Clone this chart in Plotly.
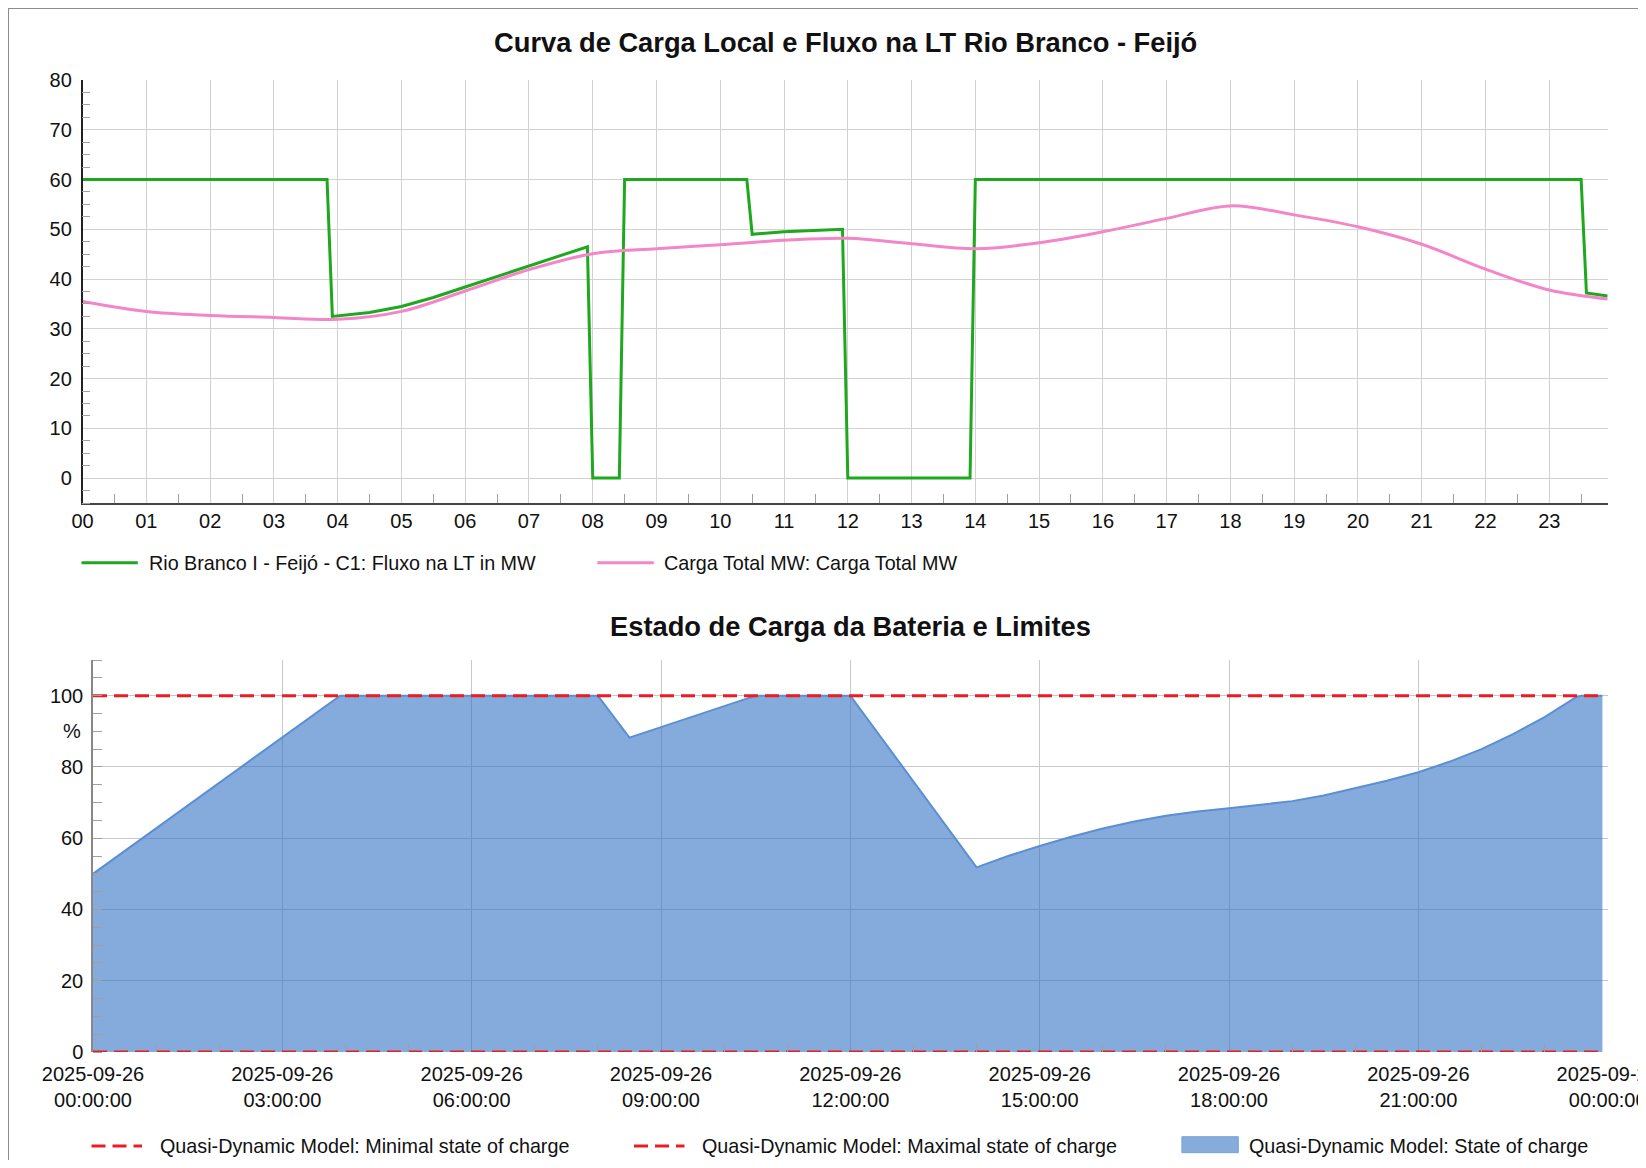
import plotly.graph_objects as go

# ---------------- data ----------------
day = "2025-09-26"
next_day = "2025-09-27"

# Top chart: flow on transmission line (MW)
flow_times = ["00:00", "03:50", "03:55", "04:00", "04:30", "05:00", "05:30", "06:00", "06:30",
              "07:00", "07:30", "07:55", "08:00", "08:25", "08:30", "10:25", "10:30", "11:00",
              "11:55", "12:00", "13:55", "14:00", "23:30", "23:35", "23:55"]
flow_mw = [60, 60, 32.5, 32.6, 33.3, 34.5, 36.3, 38.4, 40.5,
           42.6, 44.7, 46.5, 0, 0, 60, 60, 49.0, 49.5,
           50.0, 0, 0, 60, 60, 37.2, 36.6]

# Top chart: total load (MW)
load_times = ["00:00", "01:00", "02:00", "03:00", "04:00", "05:00", "06:00", "07:00", "08:00",
              "09:00", "10:00", "11:00", "12:00", "13:00", "14:00", "15:00", "16:00", "17:00",
              "18:00", "19:00", "20:00", "21:00", "22:00", "23:00", "23:55"]
load_mw = [35.5, 33.5, 32.7, 32.3, 31.9, 33.5, 37.6, 41.9, 45.1,
           46.1, 46.9, 47.8, 48.2, 47.1, 46.1, 47.3, 49.5, 52.2,
           54.7, 52.9, 50.5, 47.0, 42.0, 37.8, 36.0]

# Bottom chart: battery state of charge (%)
soc_times = ["00:00", "03:55", "08:00", "08:30", "10:30", "12:00", "14:00", "14:30", "15:00",
             "15:30", "16:00", "16:30", "17:00", "17:30", "18:00", "18:30", "19:00", "19:30",
             "20:00", "20:30", "21:00", "21:30", "22:00", "22:30", "23:00", "23:30", "23:35", "23:55"]
soc_pct = [50, 100, 100, 88.2, 100, 100, 51.8, 55.0, 57.8,
           60.4, 62.7, 64.7, 66.3, 67.5, 68.4, 69.3, 70.4, 72.0,
           74.0, 76.1, 78.5, 81.5, 85.0, 89.2, 94.0, 99.6, 100, 100]

limit_times = ["00:00", "23:55"]
soc_min_pct = [0, 0]
soc_max_pct = [100, 100]

top_x_ticks_fmt = "%H"
bottom_x_ticks_fmt = "%Y-%m-%d<br>%H:%M:%S"
soc_y_ticks = [0, 20, 40, 60, 80, 100]

title_top = "Curva de Carga Local e Fluxo na LT Rio Branco - Feijó"
title_bottom = "Estado de Carga da Bateria e Limites"
name_flow = "Rio Branco I - Feijó - C1: Fluxo na LT in MW"
name_load = "Carga Total MW: Carga Total MW"
name_min = "Quasi-Dynamic Model: Minimal state of charge"
name_max = "Quasi-Dynamic Model: Maximal state of charge"
name_soc = "Quasi-Dynamic Model: State of charge"

# ---------------- styling ----------------
W, H = 1630, 1152
FONT = "Liberation Sans, Arial, sans-serif"
GREEN = "#1ea81e"
PINK = "#f286c8"
RED = "#ec1c24"
BLUE_LINE = "#5b8fd4"
BLUE_FILL = "rgba(50,115,196,0.6)"
BLUE_SWATCH = "#86acdc"
GRID = "#d2d2d2"
TXT = "#111111"
DASH = "14px,7px"


def px_x(x_full):
    return (x_full - 8) / W


def px_y(y_full):
    return 1 - (y_full - 8) / H


def ts(d, t):
    return f"{d} {t}"


fig = go.Figure()

fig.add_trace(go.Scatter(x=[ts(day, t) for t in flow_times], y=flow_mw, mode="lines",
                         name=name_flow, line=dict(color=GREEN, width=3),
                         xaxis="x", yaxis="y", showlegend=False))
fig.add_trace(go.Scatter(x=[ts(day, t) for t in load_times], y=load_mw, mode="lines",
                         name=name_load, line=dict(color=PINK, width=3, shape="spline", smoothing=1.0),
                         xaxis="x", yaxis="y", showlegend=False))

fig.add_trace(go.Scatter(x=[ts(day, t) for t in soc_times], y=soc_pct, mode="lines",
                         name=name_soc, fill="tozeroy", fillcolor=BLUE_FILL,
                         line=dict(color=BLUE_LINE, width=2),
                         xaxis="x2", yaxis="y2", showlegend=False))
fig.add_trace(go.Scatter(x=[ts(day, t) for t in limit_times], y=soc_min_pct, mode="lines",
                         name=name_min, line=dict(color=RED, width=3, dash=DASH),
                         xaxis="x2", yaxis="y2", showlegend=False, cliponaxis=False))
fig.add_trace(go.Scatter(x=[ts(day, t) for t in limit_times], y=soc_max_pct, mode="lines",
                         name=name_max, line=dict(color=RED, width=3, dash=DASH),
                         xaxis="x2", yaxis="y2", showlegend=False))

tickfont = dict(family=FONT, size=20, color=TXT)
legfont = dict(family=FONT, size=19.75, color=TXT)

fig.update_layout(
    width=W, height=H, template="none",
    margin=dict(l=0, r=0, t=0, b=0, autoexpand=False),
    paper_bgcolor="white", plot_bgcolor="white",
    font=dict(family=FONT, size=20, color=TXT),
    showlegend=False,
    xaxis=dict(domain=[px_x(82.6), px_x(1607.7)], anchor="y", type="date",
               range=[ts(day, "00:00"), ts(day, "23:55")],
               tick0=ts(day, "00:00"), dtick=3600000, tickformat=top_x_ticks_fmt,
               showgrid=True, gridcolor=GRID, gridwidth=1.3, zeroline=False,
               showline=True, linecolor="#444444", linewidth=1.5,
               ticks="", ticklabelstandoff=-1, tickfont=tickfont, automargin=False,
               minor=dict(dtick=1800000, tick0=ts(day, "00:00"), ticks="inside", ticklen=9,
                          tickcolor="#a0a0a0", tickwidth=1, showgrid=False)),
    yaxis=dict(domain=[px_y(503), px_y(80)], anchor="x", range=[-5, 80],
               tick0=0, dtick=10, showgrid=True, gridcolor=GRID, gridwidth=1.3, zeroline=False,
               showline=True, linecolor="#222222", linewidth=1.5,
               ticks="", ticklabelstandoff=5, tickfont=tickfont, automargin=False,
               minor=dict(dtick=2.5, tick0=0, ticks="inside", ticklen=8,
                          tickcolor="#a0a0a0", tickwidth=1, showgrid=False)),
    xaxis2=dict(domain=[px_x(93), px_x(1607.7)], anchor="y2", type="date",
                range=[ts(day, "00:00"), ts(next_day, "00:00:01")],
                tick0=ts(day, "00:00"), dtick=3 * 3600000, tickformat=bottom_x_ticks_fmt,
                showgrid=True, gridcolor="#c8c8c8", gridwidth=1.3, zeroline=False,
                showline=False, ticks="", ticklabelstandoff=8, tickfont=tickfont, automargin=False,
                ticklabeloverflow="allow",
                minor=dict(dtick=3600000, tick0=ts(day, "00:00"), ticks="inside", ticklen=8,
                           tickcolor="#a0a0a0", tickwidth=1, showgrid=False)),
    yaxis2=dict(domain=[px_y(1052), px_y(660)], anchor="x2", range=[0, 110],
                tickvals=soc_y_ticks, showgrid=True, gridcolor="#c8c8c8", gridwidth=1.3,
                zeroline=False, showline=True, linecolor="#888888", linewidth=1.5,
                ticks="", ticklabelstandoff=4, tickfont=tickfont, automargin=False,
                minor=dict(dtick=5, tick0=0, ticks="inside", ticklen=9,
                           tickcolor="#a0a0a0", tickwidth=1, showgrid=False)),
)

annotations = [
    dict(text=f"<b>{title_top}</b>", x=px_x(845), y=px_y(43), xref="paper", yref="paper",
         xanchor="center", yanchor="middle", showarrow=False, font=dict(family=FONT, size=27.3, color=TXT)),
    dict(text=f"<b>{title_bottom}</b>", x=px_x(850), y=px_y(626), xref="paper", yref="paper",
         xanchor="center", yanchor="middle", showarrow=False, font=dict(family=FONT, size=27.3, color=TXT)),
    dict(text="%", x=px_x(83), y=90, xref="paper", yref="y2", xanchor="right", yanchor="middle",
         showarrow=False, font=tickfont),
    # legends
    dict(text=name_flow, x=px_x(147), y=px_y(562.7), xref="paper", yref="paper",
         xanchor="left", yanchor="middle", showarrow=False, font=legfont),
    dict(text=name_load, x=px_x(661.7), y=px_y(562.7), xref="paper", yref="paper",
         xanchor="left", yanchor="middle", showarrow=False, font=legfont),
    dict(text=name_min, x=px_x(157.5), y=px_y(1146), xref="paper", yref="paper",
         xanchor="left", yanchor="middle", showarrow=False, font=legfont),
    dict(text=name_max, x=px_x(700), y=px_y(1146), xref="paper", yref="paper",
         xanchor="left", yanchor="middle", showarrow=False, font=legfont),
    dict(text=name_soc, x=px_x(1247.3), y=px_y(1146), xref="paper", yref="paper",
         xanchor="left", yanchor="middle", showarrow=False, font=legfont),
]

shapes = [
    # outer frame (left and top)
    dict(type="line", xref="paper", yref="paper", x0=0, x1=0, y0=0, y1=1,
         line=dict(color="#8c8c8c", width=2)),
    dict(type="line", xref="paper", yref="paper", x0=0, x1=1, y0=1, y1=1,
         line=dict(color="#8c8c8c", width=2)),
    # legend swatches
    dict(type="line", xref="paper", yref="paper", x0=px_x(81.5), x1=px_x(137.8),
         y0=px_y(562.7), y1=px_y(562.7), line=dict(color=GREEN, width=3)),
    dict(type="line", xref="paper", yref="paper", x0=px_x(597.3), x1=px_x(653.8),
         y0=px_y(562.7), y1=px_y(562.7), line=dict(color=PINK, width=3)),
    dict(type="line", xref="paper", yref="paper", x0=px_x(91.5), x1=px_x(142),
         y0=px_y(1146), y1=px_y(1146), line=dict(color=RED, width=3, dash=DASH)),
    dict(type="line", xref="paper", yref="paper", x0=px_x(634), x1=px_x(684.5),
         y0=px_y(1146), y1=px_y(1146), line=dict(color=RED, width=3, dash=DASH)),
    dict(type="rect", xref="paper", yref="paper", x0=px_x(1181.9), x1=px_x(1238.3),
         y0=px_y(1152.7), y1=px_y(1136.7), fillcolor=BLUE_SWATCH,
         line=dict(color="#7aa2d6", width=1)),
]

fig.update_layout(annotations=annotations, shapes=shapes)

fig.write_html("out.html")
